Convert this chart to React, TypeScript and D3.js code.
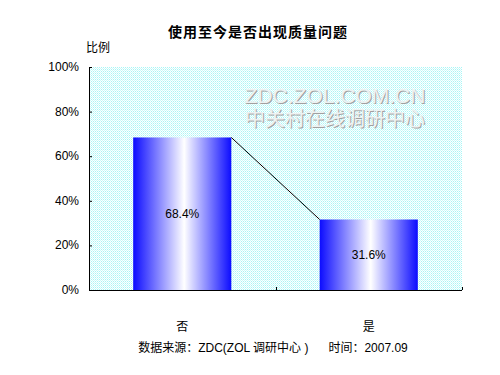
import React, { FC, useEffect, useRef } from "react";
import * as d3 from "d3";

const categories = ["否", "是"];
const values = [68.4, 31.6];
const yTicks = [0, 20, 40, 60, 80, 100];

const title = "使用至今是否出现质量问题";
const yTitle = "比例";
const footer = "数据来源：ZDC(ZOL 调研中心 )      时间：2007.09";
const watermark = ["ZDC.ZOL.COM.CN", "中关村在线调研中心"];

const App: FC = () => {
    const svgRef = useRef<SVGSVGElement>(null);

    useEffect(() => {
        if (!svgRef.current) return;
        d3.select(svgRef.current).selectAll("*").remove();

        const margin = { top: 67, left: 89 };
        const width = 373;
        const height = 223;
        const font = "Arial, 'Liberation Sans', 'Noto Sans CJK SC', sans-serif";

        const root = d3.select(svgRef.current)
            .attr("width", 500)
            .attr("height", 375)
            .style("font-family", font);

        const defs = root.append("defs");

        // dotted cyan background like the Excel fill
        const pat = defs.append("pattern")
            .attr("id", "dots")
            .attr("width", 2)
            .attr("height", 2)
            .attr("patternUnits", "userSpaceOnUse");
        pat.append("rect").attr("width", 2).attr("height", 2).attr("fill", "#ffffff");
        pat.append("rect").attr("x", 0).attr("y", 0).attr("width", 1).attr("height", 1).attr("fill", "#a8f6f6");
        pat.append("rect").attr("x", 1).attr("y", 1).attr("width", 1).attr("height", 1).attr("fill", "#d0fafa");

        const grad = defs.append("linearGradient")
            .attr("id", "barGrad")
            .attr("x1", "0%").attr("x2", "100%")
            .attr("y1", "0%").attr("y2", "0%");
        grad.append("stop").attr("offset", "0%").attr("stop-color", "#0c0cff");
        grad.append("stop").attr("offset", "52%").attr("stop-color", "#ffffff");
        grad.append("stop").attr("offset", "100%").attr("stop-color", "#0c0cff");

        // titles
        root.append("text")
            .attr("x", 258)
            .attr("y", 37)
            .attr("text-anchor", "middle")
            .style("font-size", "14px")
            .style("font-weight", "bold")
            .style("letter-spacing", "1px")
            .text(title);

        root.append("text")
            .attr("x", 86)
            .attr("y", 52)
            .style("font-size", "12px")
            .text(yTitle);

        root.append("text")
            .attr("x", 273)
            .attr("y", 352)
            .attr("text-anchor", "middle")
            .style("font-size", "12px")
            .style("white-space", "pre")
            .text(footer);

        const svg = root.append("g")
            .attr("transform", `translate(${margin.left},${margin.top})`);

        svg.append("rect")
            .attr("width", width)
            .attr("height", height)
            .attr("fill", "url(#dots)");

        // embossed watermark
        watermark.forEach((t, i) => {
            const wx = 246;
            const wy = 36 + i * 23;
            const size = i === 0 ? "21px" : "20px";
            svg.append("text")
                .attr("x", wx + 1).attr("y", wy + 1)
                .attr("text-anchor", "middle")
                .style("font-size", size)
                .attr("fill", "#a0a0a0")
                .text(t);
            svg.append("text")
                .attr("x", wx).attr("y", wy)
                .attr("text-anchor", "middle")
                .style("font-size", size)
                .attr("fill", "#eef2f2")
                .text(t);
        });

        const x = d3.scaleBand()
            .domain(categories)
            .range([0, width])
            .paddingInner(0.474)
            .paddingOuter(0.237);

        const y = d3.scaleLinear()
            .domain([0, 100])
            .range([height, 0]);

        const data = categories.map((c, i) => ({ name: c, value: values[i] }));

        svg.selectAll(".bar")
            .data(data)
            .enter()
            .append("rect")
            .attr("class", "bar")
            .attr("x", d => x(d.name) || 0)
            .attr("y", d => y(d.value))
            .attr("width", x.bandwidth())
            .attr("height", d => height - y(d.value))
            .attr("fill", "url(#barGrad)");

        // series line joining bar tops
        for (let i = 0; i < data.length - 1; i++) {
            svg.append("line")
                .attr("x1", (x(data[i].name) || 0) + x.bandwidth())
                .attr("y1", y(data[i].value))
                .attr("x2", x(data[i + 1].name) || 0)
                .attr("y2", y(data[i + 1].value))
                .attr("stroke", "#000")
                .attr("stroke-width", 1);
        }

        svg.selectAll(".val")
            .data(data)
            .enter()
            .append("text")
            .attr("class", "val")
            .attr("x", d => (x(d.name) || 0) + x.bandwidth() / 2)
            .attr("y", d => (y(d.value) + height) / 2 + 4)
            .attr("text-anchor", "middle")
            .style("font-size", "12px")
            .text(d => `${d.value.toFixed(1)}%`);

        // y axis, ticks pointing inward
        const yAxis = svg.append("g")
            .call(d3.axisRight(y).tickValues(yTicks).tickSize(3).tickFormat(() => ""));
        yAxis.select(".domain").attr("d", `M0.5,0V${height}`).attr("stroke", "#000");
        yAxis.selectAll("line").attr("stroke", "#000");

        svg.selectAll(".ylab")
            .data(yTicks)
            .enter()
            .append("text")
            .attr("class", "ylab")
            .attr("x", -10)
            .attr("y", d => y(d) + 4)
            .attr("text-anchor", "end")
            .style("font-size", "12px")
            .text(d => `${d}%`);

        // x axis with category dividers
        const step = x.step();
        const dividers = d3.range(categories.length + 1).map(i => i * step);
        svg.append("line")
            .attr("x1", 0).attr("x2", width)
            .attr("y1", height + 0.5).attr("y2", height + 0.5)
            .attr("stroke", "#000");
        svg.selectAll(".xtick")
            .data(dividers)
            .enter()
            .append("line")
            .attr("x1", d => Math.round(d) + 0.5)
            .attr("x2", d => Math.round(d) + 0.5)
            .attr("y1", height)
            .attr("y2", height - 3)
            .attr("stroke", "#000");

        svg.selectAll(".xlab")
            .data(categories)
            .enter()
            .append("text")
            .attr("class", "xlab")
            .attr("x", d => (x(d) || 0) + x.bandwidth() / 2)
            .attr("y", height + 41)
            .attr("text-anchor", "middle")
            .style("font-size", "12px")
            .text(d => d);
    }, []);

    return <svg ref={svgRef} style={{ display: "block", position: "absolute", left: 0, top: 0 }} />;
};

export default App;
